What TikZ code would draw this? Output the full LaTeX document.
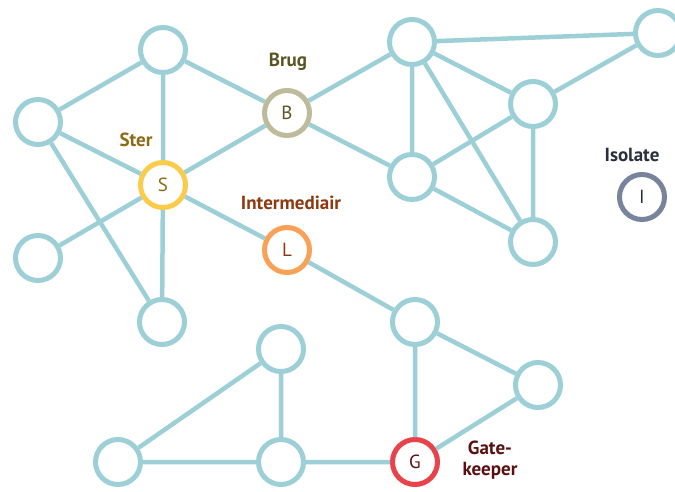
\documentclass[tikz,border=0pt]{standalone}
\usepackage{fontspec}
\setmainfont{PT Sans}
\definecolor{netblue}{HTML}{9DCFD6}
\definecolor{sterring}{HTML}{FBCB4C}
\definecolor{brugring}{HTML}{BDBB9A}
\definecolor{interring}{HTML}{F8A157}
\definecolor{gatering}{HTML}{E8424B}
\definecolor{isoring}{HTML}{77849C}
\definecolor{stertext}{HTML}{8E6A14}
\definecolor{brugtext}{HTML}{5A5622}
\definecolor{intertext}{HTML}{8A3A0E}
\definecolor{gatetext}{HTML}{5A1010}
\definecolor{isotext}{HTML}{2B2F3D}
\tikzset{
  actor/.style={circle, draw=netblue, line width=5pt, fill=white, minimum size=45pt, inner sep=0pt, font=\fontsize{19}{19}\selectfont},
  edge/.style={netblue, line width=4.5pt},
  role/.style={font=\fontsize{19}{21}\selectfont\bfseries, align=center}
}
\begin{document}
\begin{tikzpicture}[x=1pt, y=-1pt]
\useasboundingbox (0,0) rectangle (675,491);
\node[actor] (N1) at (163,50) {};
\node[actor] (N2) at (38,122) {};
\node[actor] (N3) at (38,258) {};
\node[actor] (N4) at (162,322) {};
\node[actor] (N5) at (412,42) {};
\node[actor] (N6) at (658,33) {};
\node[actor] (N7) at (533,104) {};
\node[actor] (N8) at (412,177) {};
\node[actor] (N9) at (533,242) {};
\node[actor] (N10) at (415,322) {};
\node[actor] (N11) at (538,385) {};
\node[actor] (N12) at (281,349) {};
\node[actor] (N13) at (281,462) {};
\node[actor] (N14) at (118,462) {};
\node[actor, draw=sterring, text=stertext] (S) at (163,185) {S};
\node[actor, draw=brugring, text=brugtext] (B) at (287,113) {B};
\node[actor, draw=interring, text=intertext] (L) at (287,250) {L};
\node[actor, draw=gatering, text=gatetext] (G) at (415,462) {G};
\node[actor, draw=isoring, text=isotext] (I) at (642,197) {I};
\draw[edge] (N1)--(N2) (N1)--(S) (N1)--(B) (N2)--(S) (N2)--(N4)
  (S)--(B) (S)--(N3) (S)--(N4) (S)--(L)
  (B)--(N5) (B)--(N8)
  (N5)--(N6) (N5)--(N7) (N5)--(N8) (N5)--(N9)
  (N6)--(N7) (N7)--(N8) (N7)--(N9) (N8)--(N9)
  (L)--(N10) (N10)--(N11) (N10)--(G) (N11)--(G)
  (G)--(N13) (N13)--(N12) (N13)--(N14) (N12)--(N14);
\node[role, text=brugtext] (brug) at (288,62) {Brug};
\node[role, text=stertext] (ster) at (136,140) {Ster};
\node[role, text=intertext] (inter) at (291,203) {Intermediair};
\node[role, text=isotext] (iso) at (632,155) {Isolate};
\node[role, text=gatetext] (gate) at (490,460) {Gate-\\keeper};
\end{tikzpicture}
\end{document}
